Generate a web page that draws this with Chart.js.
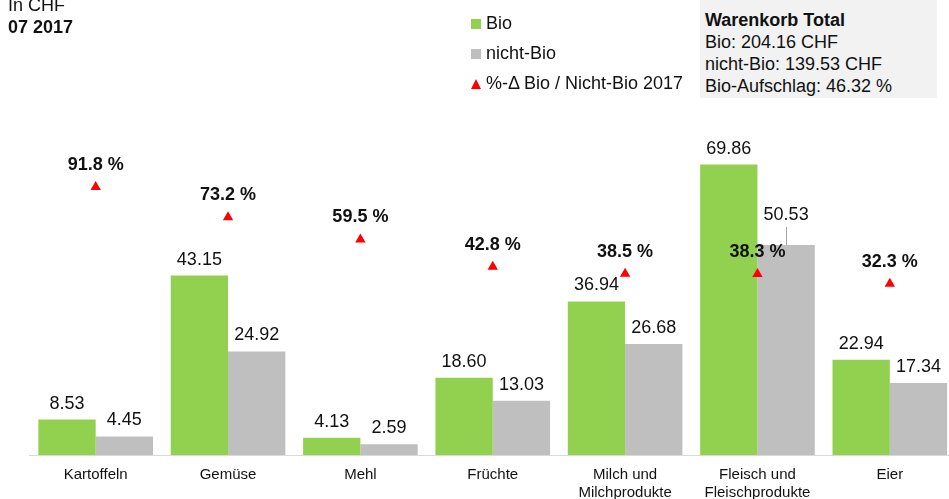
<!DOCTYPE html>
<html lang="de">
<head>
<meta charset="utf-8">
<title>Warenkorb Bio / nicht-Bio 07 2017</title>
<script src="https://cdn.jsdelivr.net/npm/chart.js@4.4.1/dist/chart.umd.min.js"></script>
<style>
    html, body {
        margin: 0;
        padding: 0;
        overflow: hidden;
        background: #fff;
        font-family: "Liberation Sans", Arial, sans-serif;
        color: #111;
    }
    #wrap {
        position: relative;
        width: 962px;
        height: 499px;
    }
    #chart {
        position: absolute;
        left: 0;
        top: 0;
    }
    .unit {
        position: absolute;
        left: 8px;
        top: -6px;
        font-size: 18px;
        line-height: 22px;
    }
    .unit b {
        display: block;
    }
    .legend {
        position: absolute;
        left: 471px;
        top: 8px;
        font-size: 18px;
        line-height: 30px;
    }
    .legend div {
        white-space: nowrap;
    }
    .swatch {
        display: inline-block;
        width: 10px;
        height: 10px;
        margin-right: 5px;
        vertical-align: 0px;
    }
    .tri {
        display: inline-block;
        width: 0;
        height: 0;
        border-left: 5px solid transparent;
        border-right: 5px solid transparent;
        border-bottom: 10px solid #ff0000;
        margin-right: 5px;
        vertical-align: 0px;
    }
    .total {
        position: absolute;
        left: 700px;
        top: 0;
        width: 232px;
        height: 89px;
        padding: 9px 0 0 5px;
        background: #f2f2f2;
        font-size: 18px;
        line-height: 22px;
        white-space: nowrap;
    }
</style>
</head>
<body>
<div id="wrap">
    <canvas id="chart" width="962" height="499"></canvas>
    <div class="unit">In CHF<b>07 2017</b></div>
    <div class="legend">
        <div><span class="swatch" style="background:#92d050"></span>Bio</div>
        <div><span class="swatch" style="background:#bfbfbf"></span>nicht-Bio</div>
        <div><span class="tri"></span>%-&Delta; Bio / Nicht-Bio 2017</div>
    </div>
    <div class="total">
        <b>Warenkorb Total</b><br>
        Bio: 204.16 CHF<br>
        nicht-Bio: 139.53 CHF<br>
        Bio-Aufschlag: 46.32 %
    </div>
</div>

<script>
// Chart data
const categories = [
    'Kartoffeln',
    'Gemüse',
    'Mehl',
    'Früchte',
    ['Milch und', 'Milchprodukte'],
    ['Fleisch und', 'Fleischprodukte'],
    'Eier'
];
const bioPrices = [8.53, 43.15, 4.13, 18.60, 36.94, 69.86, 22.94];
const nonBioPrices = [4.45, 24.92, 2.59, 13.03, 26.68, 50.53, 17.34];
const bioMarkup = [91.8, 73.2, 59.5, 42.8, 38.5, 38.3, 32.3];

const font = '"Liberation Sans", Arial, sans-serif';

// labels above bars and triangles
const valueLabels = {
    id: 'valueLabels',
    afterDatasetsDraw(chart) {
        const ctx = chart.ctx;
        ctx.save();
        ctx.textAlign = 'center';
        ctx.textBaseline = 'middle';
        ctx.fillStyle = '#111';
        chart.data.datasets.forEach((ds, d) => {
            const meta = chart.getDatasetMeta(d);
            meta.data.forEach((el, i) => {
                const v = ds.data[i];
                if (ds.type === 'line') {
                    ctx.font = 'bold 18px ' + font;
                    ctx.fillText(v.toFixed(1) + ' %', el.x, el.y - 22);
                    return;
                }
                ctx.font = '18px ' + font;
                // the Fleisch nicht-Bio label sits higher, with a small leader line
                if (d === 2 && i === 5) {
                    ctx.fillText(v.toFixed(2), el.x, el.y - 30);
                    ctx.strokeStyle = '#a6a6a6';
                    ctx.lineWidth = 1;
                    ctx.beginPath();
                    ctx.moveTo(Math.round(el.x) + 0.5, el.y - 18);
                    ctx.lineTo(Math.round(el.x) + 0.5, el.y);
                    ctx.stroke();
                } else {
                    ctx.fillText(v.toFixed(2), el.x, el.y - 16);
                }
            });
        });
        ctx.restore();
    }
};

document.addEventListener('DOMContentLoaded', function() {
    const ctx = document.getElementById('chart').getContext('2d');
    new Chart(ctx, {
        type: 'bar',
        data: {
            labels: categories,
            datasets: [
                {
                    type: 'line',
                    label: '%-Δ Bio / Nicht-Bio 2017',
                    data: bioMarkup,
                    yAxisID: 'pct',
                    showLine: false,
                    pointStyle: 'triangle',
                    pointRadius: 6,
                    pointBackgroundColor: '#ff0000',
                    pointBorderColor: '#ff0000',
                    pointBorderWidth: 0,
                    order: 0
                },
                {
                    label: 'Bio',
                    data: bioPrices,
                    backgroundColor: '#92d050',
                    yAxisID: 'y',
                    order: 1
                },
                {
                    label: 'nicht-Bio',
                    data: nonBioPrices,
                    backgroundColor: '#bfbfbf',
                    yAxisID: 'y',
                    order: 1
                }
            ]
        },
        options: {
            responsive: false,
            animation: false,
            categoryPercentage: 0.866,
            barPercentage: 1.0,
            layout: {
                padding: { left: 29.5, right: 0, top: 0, bottom: 0 }
            },
            plugins: {
                legend: { display: false },
                tooltip: { enabled: false }
            },
            scales: {
                x: {
                    grid: { display: false },
                    border: { display: true, color: '#d9d9d9', width: 1 },
                    ticks: {
                        color: '#111',
                        padding: 3,
                        font: { family: font, size: 15, lineHeight: 1.2 },
                        maxRotation: 0,
                        autoSkip: false
                    },
                    afterFit: function(scale) {
                        scale.height = 44;
                    }
                },
                y: {
                    display: false,
                    min: 0,
                    max: 108.0
                },
                pct: {
                    display: false,
                    position: 'right',
                    min: -73.0,
                    max: 203.1
                }
            }
        },
        plugins: [valueLabels]
    });
});
</script>
</body>
</html>
